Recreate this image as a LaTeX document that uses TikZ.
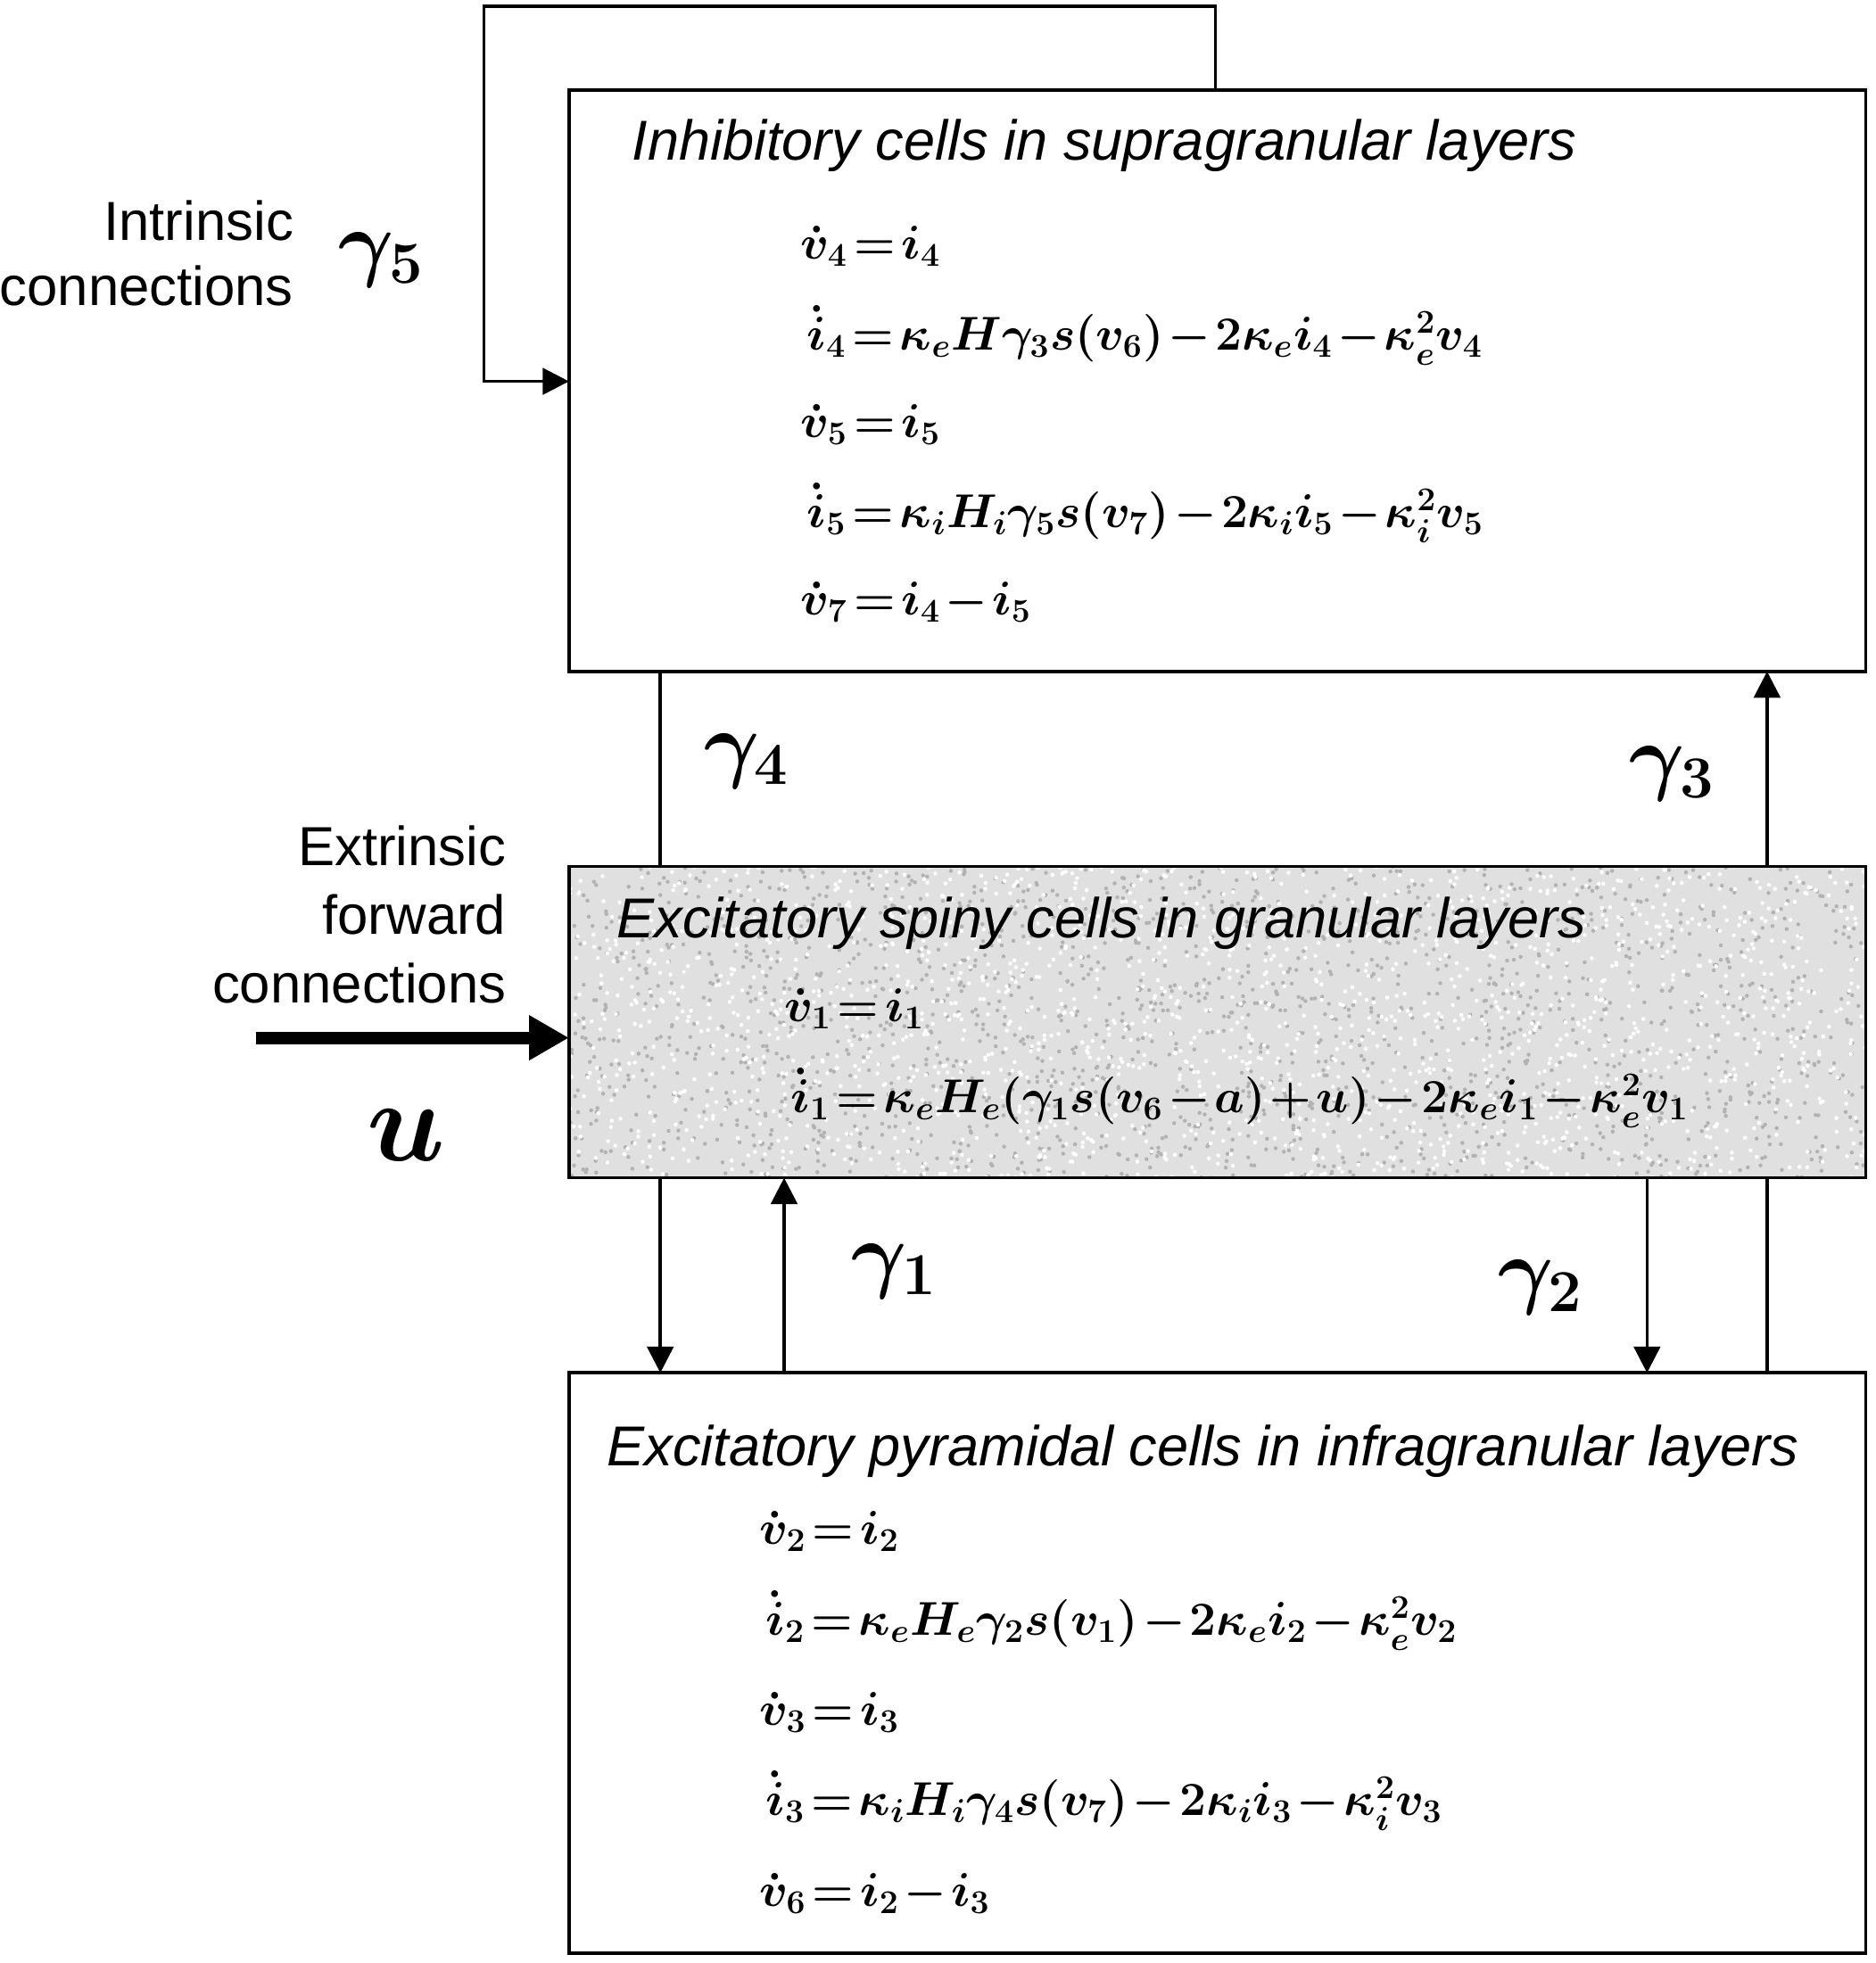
\RequirePackage{fix-cm}
\documentclass[tikz,border=0pt]{standalone}
\usepackage{fontspec}
\setsansfont{Liberation Sans}
\usetikzlibrary{arrows.meta}
\newcommand{\mq}[1]{{\thickmuskip=2mu\medmuskip=1.5mu$#1$}}
\begin{document}
\begin{tikzpicture}[x=0.5pt,y=-0.5pt]
\tikzset{
 box/.style={draw, line width=1.3pt, minimum width=518.5pt, inner sep=0pt, outer sep=0pt},
 conn/.style={line width=1.3pt, -{Triangle[length=10.5pt,width=10.5pt]}},
 lbl/.style={font=\sffamily\fontsize{22}{26}\selectfont, inner sep=0pt},
 ttl/.style={font=\sffamily\itshape\fontsize{22.5}{26}\selectfont, inner sep=0pt, anchor=base west},
 eq/.style={font=\fontsize{19}{23}\selectfont\boldmath, inner sep=0pt, anchor=base west},
 gam/.style={font=\fontsize{34}{38}\selectfont\boldmath, inner sep=0pt},
 speck/.style={fill=black!30},
 glint/.style={fill=white},
}
\useasboundingbox (0,0) rectangle (1500,1570);
% boxes
\node[box, fill=white, minimum height=232.5pt] (top) at (973.5,304.5) {};
\node[box, fill=white, minimum height=232pt] (bot) at (973.5,1330) {};
% coordinates for connector columns
\coordinate (x4) at (528,0);
\coordinate (x1) at (627,0);
\coordinate (x2) at (1317,0);
\coordinate (x3) at (1413,0);
% through connections (behind middle box)
\draw[conn] (top.south -| x4) -- (bot.north -| x4);
\draw[conn] (bot.north -| x3) -- (top.south -| x3);
% middle box
\node[box, fill=black!12, minimum height=124.5pt] (mid) at (973.5,817.5) {};
\begin{scope}
\clip (mid.south west) rectangle (mid.north east);
\pgfmathsetseed{7}
\foreach \k in {1,...,1800}{
 \pgfmathsetmacro{\px}{455+1037*rnd}
 \pgfmathsetmacro{\py}{693+249*rnd}
 \fill[speck] (\px,\py) circle[radius=0.8pt];
}
\foreach \k in {1,...,1800}{
 \pgfmathsetmacro{\px}{455+1037*rnd}
 \pgfmathsetmacro{\py}{693+249*rnd}
 \fill[glint] (\px,\py) circle[radius=0.8pt];
}
\end{scope}
\draw[line width=1.3pt] (mid.south west) rectangle (mid.north east);
% gamma1, gamma2
\draw[conn] (bot.north -| x1) -- (mid.south -| x1);
\draw[conn] (mid.south -| x2) -- (bot.north -| x2);
% intrinsic loop
\coordinate (loopA) at (972,5);
\coordinate (loopB) at (387,305);
\draw[conn] (top.north -| loopA) -- (loopA) -| (loopB) -- (top.west |- loopB);
% extrinsic input
\coordinate (uin) at (205,830);
\draw[line width=5pt, -{Triangle[length=16pt,width=17pt]}] (uin) -- (mid.west |- uin);
% titles
\node[ttl] (t1) at (505,128) {Inhibitory cells in supragranular layers};
\node[ttl] (t2) at (493,750) {Excitatory spiny cells in granular layers};
\node[ttl] (t3) at (485,1172) {Excitatory pyramidal cells in infragranular layers};
% equations top
\node[eq] (e41) at (640,207) {\mq{\dot{v}_4=i_4}};
\node[eq] (e42) at (645,280) {\mq{\dot{i}_4=\kappa_e H\gamma_3 s(v_6)-2\kappa_e i_4-\kappa_e^2 v_4}};
\node[eq] (e51) at (640,350) {\mq{\dot{v}_5=i_5}};
\node[eq] (e52) at (645,422) {\mq{\dot{i}_5=\kappa_i H_i\gamma_5 s(v_7)-2\kappa_i i_5-\kappa_i^2 v_5}};
\node[eq] (e71) at (640,492) {\mq{\dot{v}_7=i_4-i_5}};
% equations middle
\node[eq] (e11) at (627,817) {\mq{\dot{v}_1=i_1}};
\node[eq] (e12) at (632,890) {\mq{\dot{i}_1=\kappa_e H_e(\gamma_1 s(v_6-a)+u)-2\kappa_e i_1-\kappa_e^2 v_1}};
% equations bottom
\node[eq] (e21) at (607,1235) {\mq{\dot{v}_2=i_2}};
\node[eq] (e22) at (612,1308) {\mq{\dot{i}_2=\kappa_e H_e\gamma_2 s(v_1)-2\kappa_e i_2-\kappa_e^2 v_2}};
\node[eq] (e31) at (607,1380) {\mq{\dot{v}_3=i_3}};
\node[eq] (e32) at (612,1452) {\mq{\dot{i}_3=\kappa_i H_i\gamma_4 s(v_7)-2\kappa_i i_3-\kappa_i^2 v_3}};
\node[eq] (e61) at (607,1525) {\mq{\dot{v}_6=i_2-i_3}};
% side labels
\node[lbl, anchor=base east] (in1) at (235,192) {Intrinsic};
\node[lbl, anchor=base east] (in2) at (235,244) {connections};
\node[lbl, anchor=base east] (ex1) at (405,692) {Extrinsic};
\node[lbl, anchor=base east] (ex2) at (405,747) {forward};
\node[lbl, anchor=base east] (ex3) at (405,802) {connections};
% gamma labels
\node[gam] (g5) at (305,208) {$\gamma_5$};
\node[gam] (g4) at (597,609) {$\gamma_4$};
\node[gam] (g3) at (1337,619) {$\gamma_3$};
\node[gam] (g1) at (715,1017) {$\gamma_1$};
\node[gam] (g2) at (1232,1030) {$\gamma_2$};
\node[font=\fontsize{46}{50}\selectfont\boldmath, inner sep=0pt] (u) at (325,908) {$u$};
\end{tikzpicture}
\end{document}
